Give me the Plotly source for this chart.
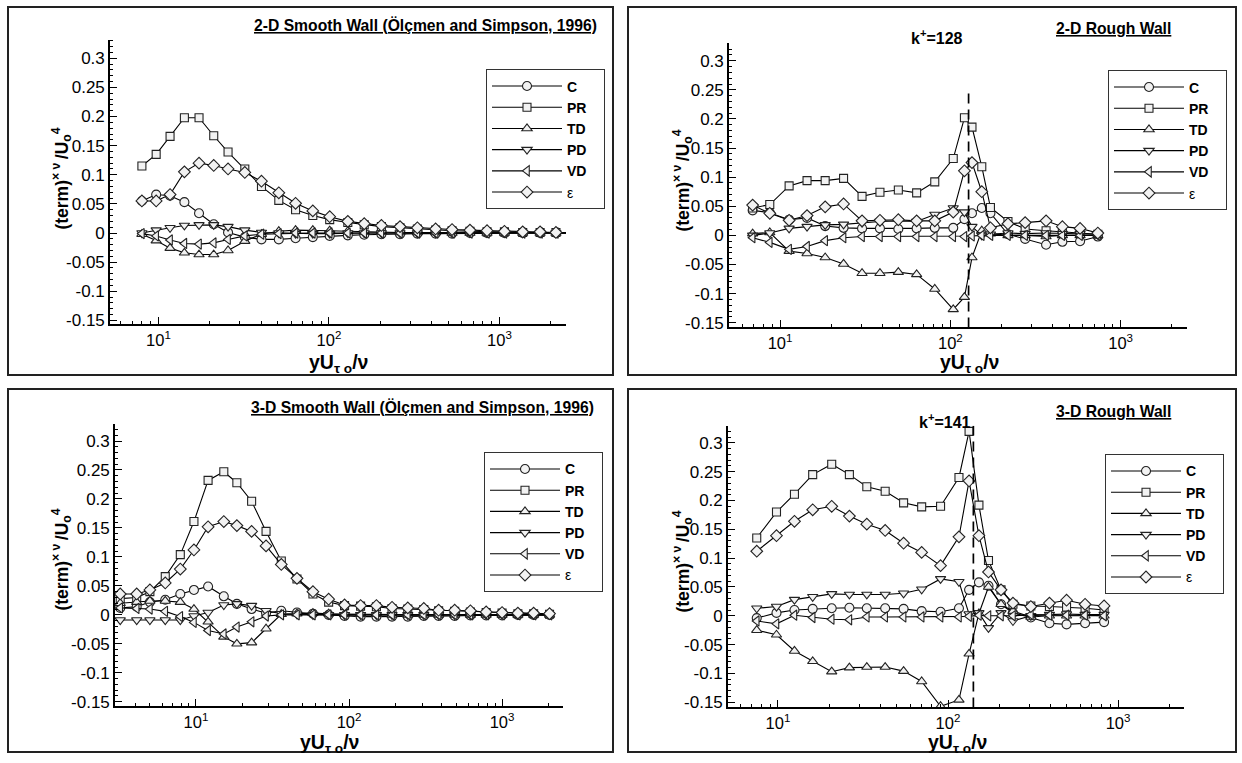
import plotly.graph_objects as go

W, H = 1242, 763
FONT = "Liberation Sans"

terms = ["C", "PR", "TD", "PD", "VD", "ε"]
legend_labels = ["<b>C</b>", "<b>PR</b>", "<b>TD</b>", "<b>PD</b>", "<b>VD</b>", "ε"]
symbols = ["circle", "square", "triangle-up", "triangle-down", "triangle-left", "diamond"]
msizes = [9, 8, 9, 9, 9, 9]

# ---------------- 2-D smooth wall ----------------
x_2ds = [8.0, 9.7, 11.7, 14.2, 17.3, 21.1, 25.6, 32.1, 40.2, 50.8, 63.7, 80.4, 101, 129, 161, 203,
         261, 330, 422, 527, 671, 845, 1069, 1368, 1730, 2143, 2466]
c_2ds = [0.055, 0.066, 0.064, 0.053, 0.034, 0.015, 0.001, -0.007, -0.011, -0.011, -0.009, -0.007,
         -0.005, -0.004, -0.003, -0.002, -0.002, -0.001, -0.001, -0.001, 0.0, 0.0, 0.0, 0.0, 0.0, 0.0, 0.0]
pr_2ds = [0.115, 0.135, 0.166, 0.198, 0.198, 0.167, 0.139, 0.110, 0.080, 0.056, 0.040, 0.030, 0.023,
          0.018, 0.014, 0.011, 0.009, 0.007, 0.005, 0.004, 0.003, 0.002, 0.002, 0.001, 0.001, 0.001, 0.0]
td_2ds = [-0.002, -0.013, -0.026, -0.034, -0.037, -0.037, -0.030, -0.014, -0.002, 0.003, 0.005, 0.005,
          0.004, 0.003, 0.002, 0.002, 0.001, 0.001, 0.001, 0.0, 0.0, 0.0, 0.0, 0.0, 0.0, 0.0, 0.0]
pd_2ds = [0.0, 0.005, 0.009, 0.013, 0.014, 0.014, 0.011, 0.005, 0.001, 0.0, -0.001, -0.001, -0.001,
          0.0, 0.0, 0.0, 0.0, 0.0, 0.0, 0.0, 0.0, 0.0, 0.0, 0.0, 0.0, 0.0, 0.0]
vd_2ds = [-0.001, -0.005, -0.012, -0.018, -0.019, -0.017, -0.011, -0.005, -0.002, -0.001, 0.0, 0.0,
          0.0, 0.0, 0.0, 0.0, 0.0, 0.0, 0.0, 0.0, 0.0, 0.0, 0.0, 0.0, 0.0, 0.0, 0.0]
eps_2ds = [0.055, 0.055, 0.066, 0.105, 0.120, 0.116, 0.110, 0.104, 0.089, 0.069, 0.051, 0.038, 0.028,
           0.020, 0.016, 0.013, 0.011, 0.009, 0.007, 0.006, 0.005, 0.004, 0.003, 0.002, 0.002, 0.001, 0.001]

# ---------------- 2-D rough wall ----------------
x_2dr = [6.9, 8.7, 11.3, 14.4, 18.4, 23.6, 30.3, 38.6, 49.5, 63.4, 81, 104, 121, 134, 153, 172,
         218, 275, 365, 455, 578, 735]
c_2dr = [0.043, 0.039, 0.027, 0.030, 0.016, 0.013, 0.012, 0.012, 0.011, 0.012, 0.013, 0.013, 0.028,
         0.038, 0.047, 0.038, 0.002, -0.006, -0.016, -0.011, -0.010, -0.002]
pr_2dr = [0.047, 0.053, 0.085, 0.094, 0.094, 0.098, 0.067, 0.074, 0.078, 0.073, 0.092, 0.132, 0.202,
          0.186, 0.118, 0.048, 0.024, 0.011, 0.008, 0.006, 0.004, 0.002]
td_2dr = [0.003, 0.005, -0.027, -0.031, -0.038, -0.049, -0.065, -0.065, -0.063, -0.067, -0.092,
          -0.127, -0.106, -0.038, 0.008, 0.003, 0.0, 0.0, -0.002, 0.0, 0.0, 0.0]
pd_2dr = [0.0, 0.004, 0.012, 0.015, 0.018, 0.019, 0.022, 0.024, 0.025, 0.024, 0.036, 0.047, 0.040,
          0.015, 0.0, 0.002, 0.004, 0.003, 0.004, 0.003, 0.003, 0.002]
vd_2dr = [-0.004, -0.012, -0.024, -0.019, -0.009, -0.004, -0.002, -0.002, -0.002, -0.002, -0.002,
          -0.002, -0.002, -0.001, 0.0, 0.0, 0.0, 0.0, 0.0, 0.0, 0.0, 0.0]
eps_2dr = [0.052, 0.038, 0.026, 0.034, 0.049, 0.054, 0.025, 0.026, 0.027, 0.025, 0.025, 0.040, 0.111,
           0.125, 0.075, 0.013, 0.020, 0.022, 0.025, 0.015, 0.012, 0.004]
kplus_2dr = 128
kline_top_2dr = 0.254

# ---------------- 3-D smooth wall ----------------
x_3ds = [3.2, 4.1, 5.0, 6.3, 7.9, 9.7, 12.0, 15.2, 18.5, 23.1, 28.7, 36.1, 45.7, 58.1, 73.6, 93.5,
         119, 151, 191, 242, 308, 385, 490, 621, 787, 1000, 1268, 1607, 2042]
c_3ds = [0.012, 0.014, 0.022, 0.026, 0.036, 0.043, 0.049, 0.032, 0.019, 0.010, 0.003, 0.007, 0.004,
         0.002, 0.0, -0.002, -0.003, -0.003, -0.003, -0.003, -0.002, -0.002, -0.002, -0.001, -0.001,
         -0.001, 0.0, 0.0, 0.0]
pr_3ds = [0.028, 0.030, 0.040, 0.066, 0.104, 0.161, 0.232, 0.247, 0.228, 0.196, 0.144, 0.093, 0.062,
          0.036, 0.022, 0.016, 0.015, 0.014, 0.011, 0.010, 0.009, 0.007, 0.006, 0.005, 0.004, 0.003,
          0.002, 0.002, 0.001]
td_3ds = [0.020, 0.022, 0.024, 0.024, 0.022, 0.010, -0.012, -0.038, -0.050, -0.048, -0.024, 0.001,
          0.002, 0.003, 0.002, 0.001, 0.001, 0.001, 0.0, 0.0, 0.0, 0.0, 0.0, 0.0, 0.0, 0.0, 0.0, 0.0, 0.0]
pd_3ds = [-0.009, -0.009, -0.009, -0.009, -0.009, -0.002, 0.004, 0.017, 0.019, 0.016, 0.007, 0.002,
          0.001, 0.0, 0.0, 0.0, 0.0, 0.0, 0.0, 0.0, 0.0, 0.0, 0.0, 0.0, 0.0, 0.0, 0.0, 0.0, 0.0]
vd_3ds = [0.012, 0.011, 0.010, 0.006, -0.003, -0.013, -0.027, -0.033, -0.021, -0.012, -0.002, 0.0,
          0.0, 0.0, 0.0, 0.0, 0.0, 0.0, 0.0, 0.0, 0.0, 0.0, 0.0, 0.0, 0.0, 0.0, 0.0, 0.0, 0.0]
eps_3ds = [0.036, 0.036, 0.043, 0.055, 0.079, 0.112, 0.152, 0.161, 0.154, 0.144, 0.119, 0.087, 0.063,
           0.040, 0.027, 0.017, 0.016, 0.016, 0.013, 0.012, 0.011, 0.008, 0.008, 0.007, 0.005, 0.004,
           0.003, 0.003, 0.002]

# ---------------- 3-D rough wall ----------------
x_3dr = [7.5, 9.8, 12.5, 16.0, 20.7, 26.3, 33.3, 42.7, 54.8, 70, 90.4, 116, 133, 152, 173, 205,
         241, 307, 395, 498, 640, 828]
c_3dr = [-0.004, 0.005, 0.010, 0.012, 0.013, 0.014, 0.013, 0.013, 0.012, 0.008, 0.007, 0.013, 0.045,
         0.058, 0.052, 0.020, 0.005, -0.003, -0.013, -0.015, -0.013, -0.011]
pr_3dr = [0.135, 0.180, 0.211, 0.245, 0.263, 0.245, 0.224, 0.216, 0.196, 0.189, 0.190, 0.240, 0.320,
          0.192, 0.096, 0.045, 0.020, 0.017, 0.016, 0.015, 0.013, 0.010]
td_3dr = [-0.025, -0.033, -0.061, -0.079, -0.097, -0.090, -0.089, -0.089, -0.096, -0.114, -0.157,
          -0.146, -0.066, 0.004, 0.050, 0.020, 0.008, -0.002, 0.0, 0.0, 0.0, 0.0]
pd_3dr = [0.013, 0.016, 0.028, 0.033, 0.038, 0.037, 0.037, 0.037, 0.039, 0.046, 0.064, 0.059, 0.003,
          0.005, -0.021, 0.005, -0.009, 0.0, 0.002, 0.003, 0.002, 0.002]
vd_3dr = [-0.009, -0.014, 0.001, -0.003, -0.006, -0.007, -0.002, -0.002, -0.002, -0.002, -0.002,
          -0.002, -0.001, 0.001, 0.0, 0.0, 0.0, 0.002, 0.001, 0.001, 0.001, 0.0]
eps_3dr = [0.112, 0.139, 0.164, 0.184, 0.190, 0.173, 0.159, 0.148, 0.126, 0.110, 0.087, 0.137, 0.234,
           0.139, 0.076, 0.045, 0.022, 0.016, 0.022, 0.027, 0.020, 0.017]
kplus_3dr = 141
kline_top_3dr = 0.33

y_tickvals = [-0.15, -0.1, -0.05, 0, 0.05, 0.1, 0.15, 0.2, 0.25, 0.3]
y_ticktext = ["-0.15", "-0.1", "-0.05", "0", "0.05", "0.1", "0.15", "0.2", "0.25", "0.3"]
x_tickvals = [10, 100, 1000]
x_ticktext = ["10<sup>1</sup>", "10<sup>2</sup>", "10<sup>3</sup>"]

panel_titles = ["2-D Smooth Wall (Ölçmen and Simpson, 1996)", "2-D Rough Wall",
                "3-D Smooth Wall (Ölçmen and Simpson, 1996)", "3-D Rough Wall"]


def px(v):
    return v / W


def py(v):
    return 1 - v / H


panels = [
    dict(x=x_2ds, series=[c_2ds, pr_2ds, td_2ds, pd_2ds, vd_2ds, eps_2ds],
         xdom=(110, 566), ydom=(40, 327), xr=(0.716, 3.39), yr=(-0.157, 0.332),
         legend=(486, 70), frame=(8, 7, 613, 378), title=(425, 25),
         ytitle=(62, 180), xtitle=(338, 366)),
    dict(x=x_2dr, series=[c_2dr, pr_2dr, td_2dr, pd_2dr, vd_2dr, eps_2dr],
         xdom=(729, 1187), ydom=(43, 330), xr=(0.70, 3.39), yr=(-0.158, 0.331),
         legend=(1108, 71), frame=(628, 7, 1236, 378), title=(1113, 29),
         ytitle=(683, 182), xtitle=(969, 366)),
    dict(x=x_3ds, series=[c_3ds, pr_3ds, td_3ds, pd_3ds, vd_3ds, eps_3ds],
         xdom=(115, 563), ydom=(427, 712), xr=(0.471, 3.398), yr=(-0.158, 0.330),
         legend=(484, 456), frame=(8, 392, 613, 758), title=(422, 410),
         ytitle=(62, 564), xtitle=(329, 749)),
    dict(x=x_3dr, series=[c_3dr, pr_3dr, td_3dr, pd_3dr, vd_3dr, eps_3dr],
         xdom=(728, 1184), ydom=(429, 713), xr=(0.706, 3.388), yr=(-0.159, 0.330),
         legend=(1105, 458), frame=(628, 392, 1236, 758), title=(1113, 415),
         ytitle=(683, 566), xtitle=(957, 749)),
]

fig = go.Figure()
layout = dict(width=W, height=H, margin=dict(l=0, r=0, t=0, b=0),
              paper_bgcolor="white", plot_bgcolor="white", showlegend=True,
              font=dict(family=FONT, color="black"))
shapes = []
annotations = []

for i, p in enumerate(panels):
    n = i + 1
    sfx = "" if n == 1 else str(n)
    xa, ya = "x" + sfx, "y" + sfx
    lg = "legend" + sfx
    for k, (term, lab, sym, ms) in enumerate(zip(terms, legend_labels, symbols, msizes)):
        fig.add_trace(go.Scatter(
            x=p["x"], y=p["series"][k], mode="lines+markers",
            name=lab + "\u00a0\u00a0\u00a0",
            line=dict(color="black", width=1.1),
            marker=dict(symbol=sym, size=ms, color="#f2f2f2",
                        line=dict(color="#222222", width=1.1)),
            xaxis=xa, yaxis=ya, legend=lg, cliponaxis=False))
    layout["xaxis" + sfx] = dict(
        type="log", domain=[px(p["xdom"][0]), px(p["xdom"][1])], range=list(p["xr"]),
        anchor=ya, showline=True, linecolor="black", linewidth=1.6, mirror=False,
        ticks="inside", ticklen=8, tickwidth=1.3, tickcolor="black",
        tickvals=x_tickvals, ticktext=x_ticktext, showgrid=False, zeroline=False,
        tickfont=dict(size=16.5, family=FONT, color="black"),
        minor=dict(ticks="inside", ticklen=4, tickwidth=1, tickcolor="black", dtick="D1",
                   showgrid=False))
    layout["yaxis" + sfx] = dict(
        domain=[py(p["ydom"][1]), py(p["ydom"][0])], range=list(p["yr"]),
        anchor=xa, showline=True, linecolor="black", linewidth=1.6, mirror=False,
        ticks="inside", ticklen=7, tickwidth=1.3, tickcolor="black",
        tickvals=y_tickvals, ticktext=y_ticktext, showgrid=False, zeroline=False,
        tickfont=dict(size=17, family=FONT, color="black"),
        minor=dict(ticks="inside", ticklen=3.5, tickwidth=1, tickcolor="black", dtick=0.01,
                   tick0=0, showgrid=False))
    layout[lg] = dict(x=px(p["legend"][0]), y=py(p["legend"][1]), xanchor="left", yanchor="top",
                      bordercolor="#333333", borderwidth=1, bgcolor="white",
                      font=dict(size=14, family=FONT, color="black"),
                      itemwidth=70, tracegroupgap=0)
    fx0, fy0, fx1, fy1 = p["frame"]
    shapes.append(dict(type="rect", xref="paper", yref="paper", x0=px(fx0), x1=px(fx1),
                       y0=py(fy1), y1=py(fy0), line=dict(color="#222222", width=2)))
    annotations.append(dict(x=px(p["title"][0]), y=py(p["title"][1]), xref="paper", yref="paper",
                            text="<b><u>" + panel_titles[i] + "</u></b>", showarrow=False,
                            xanchor="center", yanchor="middle",
                            font=dict(size=15.7, family=FONT, color="black")))
    annotations.append(dict(x=px(p["ytitle"][0]), y=py(p["ytitle"][1]), xref="paper", yref="paper",
                            text="<b>(term)<sup>× ν </sup>/U<sub>o</sub><sup>4</sup></b>",
                            showarrow=False, textangle=-90, xanchor="center", yanchor="middle",
                            font=dict(size=17.5, family=FONT, color="black")))
    annotations.append(dict(x=px(p["xtitle"][0]), y=py(p["xtitle"][1]), xref="paper", yref="paper",
                            text="<b>yU<sub>τ o</sub>/ν</b>", showarrow=False,
                            xanchor="center", yanchor="middle",
                            font=dict(size=19.5, family=FONT, color="black")))

# k+ dashed lines
fig.add_trace(go.Scatter(x=[kplus_2dr, kplus_2dr], y=[panels[1]["yr"][0], kline_top_2dr],
                         mode="lines", line=dict(color="black", width=1.7, dash="10px,6px"),
                         showlegend=False, xaxis="x2", yaxis="y2", hoverinfo="skip"))
fig.add_trace(go.Scatter(x=[kplus_3dr, kplus_3dr], y=[panels[3]["yr"][0], kline_top_3dr],
                         mode="lines", line=dict(color="black", width=1.7, dash="10px,6px"),
                         showlegend=False, xaxis="x4", yaxis="y4", hoverinfo="skip"))
annotations.append(dict(x=px(937), y=py(37), xref="paper", yref="paper", xanchor="center",
                        yanchor="middle", text="<b>k<sup>+</sup>=%d</b>" % kplus_2dr,
                        showarrow=False, font=dict(size=16, family=FONT, color="black")))
annotations.append(dict(x=px(945), y=py(424), xref="paper", yref="paper", xanchor="center",
                        yanchor="middle", text="<b>k<sup>+</sup>=%d</b>" % kplus_3dr,
                        showarrow=False, font=dict(size=16, family=FONT, color="black")))

layout["shapes"] = shapes
layout["annotations"] = annotations
fig.update_layout(**layout)
fig.write_html("out.html", config={"displayModeBar": False},
               post_script="document.body.style.margin='0px';document.body.style.overflow='hidden';")
